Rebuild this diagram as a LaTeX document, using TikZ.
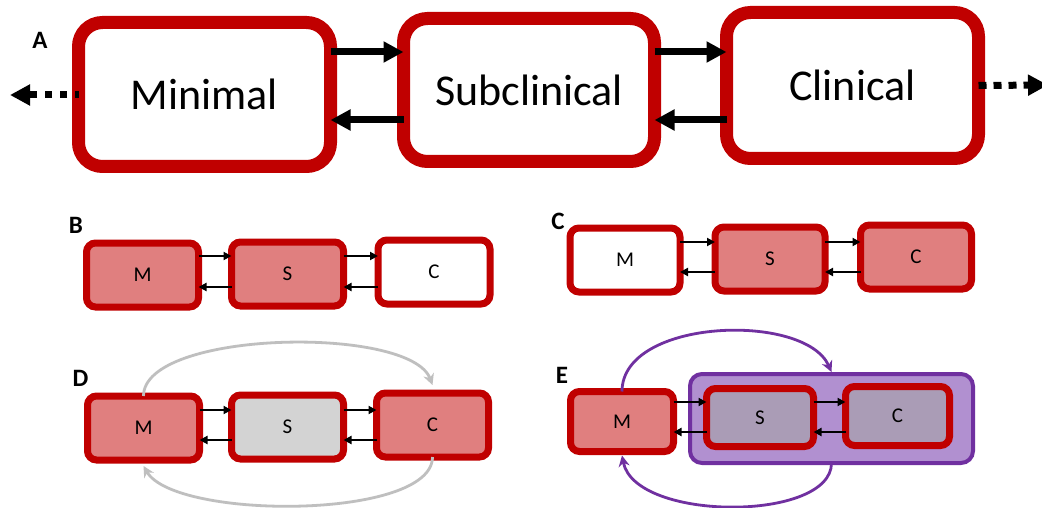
\documentclass[tikz,border=0pt]{standalone}
\usepackage{fontspec}
\setmainfont{Carlito}
\usetikzlibrary{arrows.meta,calc}
\definecolor{boxred}{HTML}{C00000}
\definecolor{boxpink}{HTML}{E07F7F}
\definecolor{boxgray}{HTML}{D3D3D3}
\definecolor{arcgray}{HTML}{BFBFBF}
\definecolor{purp}{HTML}{7030A0}
\definecolor{purpfill}{HTML}{B190D0}
\definecolor{mixfill}{HTML}{AA9CB6}
\begin{document}
\begin{tikzpicture}[x=1pt,y=-1pt,
 bigbox/.style={draw=boxred, line width=13pt, rounded corners=24pt, minimum width=252pt, minimum height=144pt, outer sep=0pt, fill=white, font=\fontsize{44}{50}\selectfont, inner sep=0pt},
 smallbox/.style={draw=boxred, line width=7pt, rounded corners=9pt, minimum width=112pt, minimum height=64pt, outer sep=0pt, font=\fontsize{21}{24}\selectfont, inner sep=0pt},
 groupbox/.style={draw=purp, fill=purpfill, line width=4pt, rounded corners=12pt, outer sep=0pt, inner sep=0pt},
 panellabel/.style={font=\bfseries\fontsize{25}{28}\selectfont, inner sep=0pt},
 bigarrow/.style={line width=7pt, -{Triangle[length=20pt,width=20pt]}},
 dotarrow/.style={line width=7pt, dash pattern=on 7pt off 8pt, -{Triangle[length=20pt,width=20pt]}},
 smallarrow/.style={line width=2.6pt, -{Triangle[length=8pt,width=8pt]}},
 grayarc/.style={draw=arcgray, line width=2.8pt, -{Stealth[length=11pt,width=11pt]}},
 purparc/.style={draw=purp, line width=2.8pt, -{Stealth[length=11pt,width=11pt]}},
]
\clip (0,0) rectangle (1042,508);
\fill[white] (0,0) rectangle (1042,508);

% helper levels
\coordinate (yAt) at (0,52);
\coordinate (yAb) at (0,120);
\coordinate (yBt) at (0,256);
\coordinate (yBb) at (0,287);
\coordinate (yCt) at (0,242);
\coordinate (yCb) at (0,272);
\coordinate (yDt) at (0,410);
\coordinate (yDb) at (0,440);
\coordinate (yEt) at (0,402);
\coordinate (yEb) at (0,432);

% ---------- Panel A ----------
\node[panellabel] (la) at (40,40) {A};
\node[bigbox] (amin) at (204.5,94.5) {Minimal};
\node[bigbox, minimum width=251pt, minimum height=143pt] (asub) at (529,90) {Subclinical};
\node[bigbox, minimum height=146pt] (acli) at (852.5,85.5) {Clinical};
\coordinate (aleft) at (10,95);
\coordinate (aright) at (1048,85);
\draw[bigarrow] (amin.east |- yAt) -- (asub.west |- yAt);
\draw[bigarrow] (asub.west |- yAb) -- (amin.east |- yAb);
\draw[bigarrow] (asub.east |- yAt) -- (acli.west |- yAt);
\draw[bigarrow] (acli.west |- yAb) -- (asub.east |- yAb);
\draw[dotarrow, dash phase=3.5pt] (amin.west |- aleft) -- (aleft);
\draw[dotarrow, dash pattern=on 8pt off 7pt] (acli.east) -- (aright);

% ---------- Panel B ----------
\node[panellabel] (lb) at (76,225) {B};
\node[smallbox, fill=boxpink] (bm) at (142.5,275) {M};
\node[smallbox, fill=boxpink] (bs) at (287.5,274) {S};
\node[smallbox, fill=white] (bc) at (434,272) {C};
\draw[smallarrow] (bm.east |- yBt) -- (bs.west |- yBt);
\draw[smallarrow] (bs.west |- yBb) -- (bm.east |- yBb);
\draw[smallarrow] (bs.east |- yBt) -- (bc.west |- yBt);
\draw[smallarrow] (bc.west |- yBb) -- (bs.east |- yBb);

% ---------- Panel C ----------
\node[panellabel] (lc) at (558,221) {C};
\node[smallbox, fill=white, minimum width=110pt] (cm) at (625,260) {M};
\node[smallbox, fill=boxpink, minimum width=110pt] (cs) at (770,259) {S};
\node[smallbox, fill=boxpink, minimum width=111pt] (cc) at (916,257) {C};
\draw[smallarrow] (cm.east |- yCt) -- (cs.west |- yCt);
\draw[smallarrow] (cs.west |- yCb) -- (cm.east |- yCb);
\draw[smallarrow] (cs.east |- yCt) -- (cc.west |- yCt);
\draw[smallarrow] (cc.west |- yCb) -- (cs.east |- yCb);

% ---------- Panel D ----------
\node[panellabel] (ld) at (80.5,378.5) {D};
\node[smallbox, fill=boxpink] (dm) at (143.5,428) {M};
\node[smallbox, fill=boxgray] (ds) at (287.5,427) {S};
\node[smallbox, fill=boxpink] (dc) at (432.5,425) {C};
\draw[smallarrow] (dm.east |- yDt) -- (ds.west |- yDt);
\draw[smallarrow] (ds.west |- yDb) -- (dm.east |- yDb);
\draw[smallarrow] (ds.east |- yDt) -- (dc.west |- yDt);
\draw[smallarrow] (dc.west |- yDb) -- (ds.east |- yDb);
\draw[grayarc] (dm.north) .. controls (143.5,330) and (410,325) .. ([yshift=8pt]dc.north);
\draw[grayarc] (dc.south) .. controls (432.5,520) and (175,520) .. ([yshift=-6pt]dm.south);

% ---------- Panel E ----------
\node[panellabel] (le) at (562,375) {E};
\node[groupbox, minimum width=283pt, minimum height=89pt] (eg) at (831.5,418.5) {};
\node[smallbox, fill=boxpink, minimum width=103pt, minimum height=60pt] (em) at (622,421.5) {M};
\node[smallbox, fill=mixfill, minimum width=107pt, minimum height=58pt] (es) at (760,417.5) {S};
\node[smallbox, fill=mixfill, minimum width=104pt, minimum height=59pt] (ec) at (897.5,416) {C};
\draw[smallarrow] (em.east |- yEt) -- (es.west |- yEt);
\draw[smallarrow] (es.west |- yEb) -- (em.east |- yEb);
\draw[smallarrow] (es.east |- yEt) -- (ec.west |- yEt);
\draw[smallarrow] (ec.west |- yEb) -- (es.east |- yEb);
\draw[purparc] (em.north) .. controls (622,318) and (805,312) .. ([yshift=2pt]eg.north);
\draw[purparc] (eg.south) .. controls (831.5,522) and (635,522) .. ([yshift=-4pt]em.south);
\end{tikzpicture}
\end{document}
